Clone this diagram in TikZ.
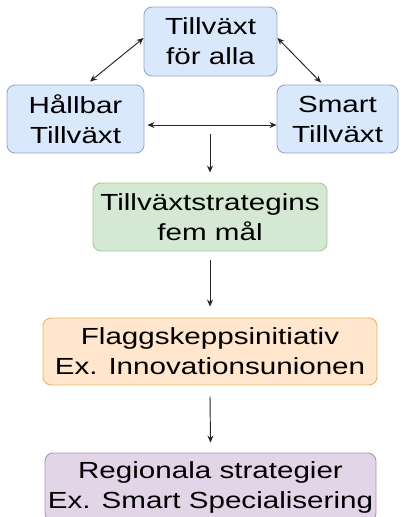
\documentclass[tikz,border=0pt]{standalone}
\usepackage{fontspec}
\setmainfont[FakeStretch=1.27]{Liberation Sans}
\usetikzlibrary{arrows.meta}

\definecolor{blueFill}{HTML}{DAE8FC}
\definecolor{blueLine}{HTML}{8FA9D0}
\definecolor{greenFill}{HTML}{D5E8D4}
\definecolor{greenLine}{HTML}{A3C98E}
\definecolor{orangeFill}{HTML}{FFE6CC}
\definecolor{orangeLine}{HTML}{E3B85C}
\definecolor{purpleFill}{HTML}{E1D5E7}
\definecolor{purpleLine}{HTML}{AD93BA}

\tikzset{
  box/.style={rounded corners=8pt, line width=0.9pt, inner sep=0pt,
    align=center, text=black,
    font=\fontsize{23.3}{30}\selectfont},
  bluebox/.style={box, fill=blueFill, draw=blueLine},
  greenbox/.style={box, fill=greenFill, draw=greenLine},
  orangebox/.style={box, fill=orangeFill, draw=orangeLine},
  purplebox/.style={box, fill=purpleFill, draw=purpleLine},
  link/.style={line width=0.95pt, draw=black!85,
    {Stealth[length=7pt,width=6pt]}-{Stealth[length=7pt,width=6pt]}},
  flow/.style={line width=0.95pt, draw=black!85, -{Stealth[length=7pt,width=6pt]}}
}

\begin{document}
\begin{tikzpicture}[x=1pt, y=-1pt]
  \useasboundingbox (0,0) rectangle (407,517);

  % three growth priorities
  \node[bluebox, minimum width=133pt, minimum height=69pt] (alla) at (210.5,41.5)
    {Tillväxt\\för alla};
  \node[bluebox, minimum width=137pt, minimum height=68pt] (hallbar) at (75.5,119)
    {Hållbar\\Tillväxt};
  \node[bluebox, minimum width=121pt, minimum height=68pt] (smart) at (337.5,119)
    {Smart\\Tillväxt};

  % goals, flagships and regional strategies
  \node[greenbox, minimum width=234pt, minimum height=68pt] (mal) at (210,217)
    {Tillväxtstrategins\\fem mål};
  \node[orangebox, minimum width=334pt, minimum height=67pt] (flagg) at (210,351.5)
    {Flaggskeppsinitiativ\\Ex. Innovationsunionen};
  \node[purplebox, minimum width=331pt, minimum height=68pt] (region) at (210.5,487)
    {Regionala strategier\\Ex. Smart Specialisering};

  % links between the priorities
  \draw[link] ([yshift=3.5pt]alla.west) -- ([xshift=14.5pt,yshift=3pt]hallbar.north);
  \draw[link] ([yshift=3.5pt]alla.east) -- ([xshift=-16.5pt,yshift=2pt]smart.north);
  \draw[link] ([xshift=3pt,yshift=-6pt]hallbar.east) -- ([yshift=-6pt]smart.west);

  % downward flow
  \coordinate (start) at (210,134);
  \draw[flow] (start) -- ([yshift=10pt]mal.north);
  \draw[flow] ([yshift=-9pt]mal.south) -- ([yshift=11pt]flagg.north);
  \draw[flow] ([yshift=-11pt]flagg.south) -- ([yshift=10pt]region.north);
\end{tikzpicture}
\end{document}
